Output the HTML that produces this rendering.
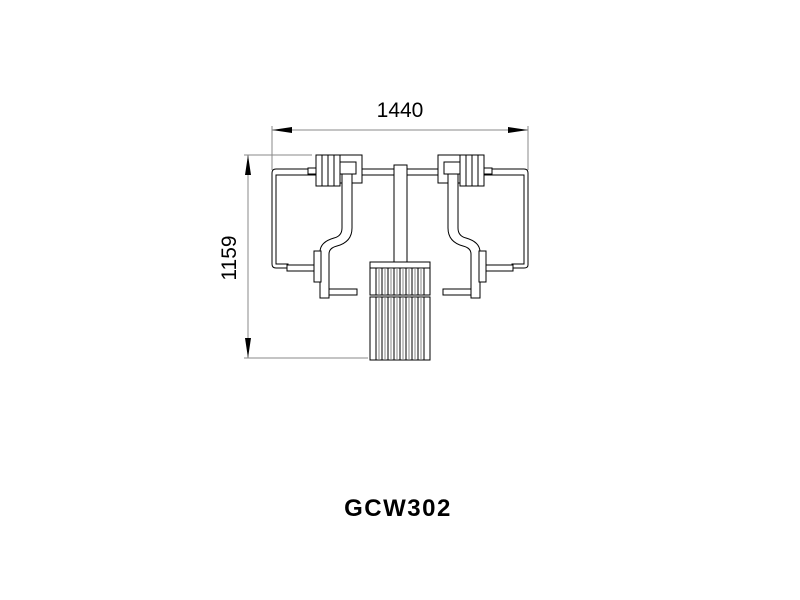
<!DOCTYPE html>
<html><head><style>body{margin:0;background:#fff}svg{display:block}</style></head><body>
<svg width="800" height="600" viewBox="0 0 800 600" xmlns="http://www.w3.org/2000/svg">
<rect width="800" height="600" fill="#fff"/>
<g stroke="#888" stroke-width="1" fill="none">
<line x1="272" y1="126" x2="272" y2="170"/>
<line x1="528" y1="126" x2="528" y2="170"/>
<line x1="272" y1="130" x2="528" y2="130"/>
<line x1="244" y1="155" x2="312" y2="155"/>
<line x1="244" y1="358" x2="368" y2="358"/>
<line x1="248" y1="155" x2="248" y2="358"/>
</g>
<g fill="#000">
<polygon points="272,130 292,127 292,133"/>
<polygon points="528,130 508,127 508,133"/>
<polygon points="248,155 245,175 251,175"/>
<polygon points="248,358 245,338 251,338"/>
</g>
<text x="400" y="117" font-family="Liberation Sans, sans-serif" font-size="21" text-anchor="middle">1440</text>
<text transform="translate(236,258) rotate(-90)" font-family="Liberation Sans, sans-serif" font-size="21" text-anchor="middle">1159</text>
<text x="398" y="516" font-family="Liberation Sans, sans-serif" font-size="24" font-weight="bold" text-anchor="middle" letter-spacing="1.5">GCW302</text>
<g stroke="#000" stroke-width="1" fill="#fff">
<path d="M276,169 H524 Q528,169 528,173 V265 Q528,268 524,268 H512 V264 H524 V175 H276 V264 H288 V268 H276 Q272,268 272,264 V173 Q272,169 276,169Z"/>
<rect x="287" y="265" width="28" height="6"/>
<rect x="485" y="265" width="28" height="6"/>
<rect x="308" y="168" width="8" height="6"/>
<rect x="484" y="168" width="8" height="6"/>
<rect x="394" y="165" width="13" height="97"/>
<rect x="316" y="155" width="6" height="31"/><rect x="322" y="155" width="6" height="31"/><rect x="328" y="155" width="6" height="31"/><rect x="334" y="155" width="6" height="31"/>
<rect x="340" y="155" width="22" height="28"/>
<rect x="340" y="162" width="16" height="12"/>
<rect x="460" y="155" width="6" height="31"/><rect x="466" y="155" width="6" height="31"/><rect x="472" y="155" width="6" height="31"/><rect x="478" y="155" width="6" height="31"/>
<rect x="438" y="155" width="22" height="28"/>
<rect x="444" y="162" width="16" height="12"/>
<path d="M342,174 V228 Q342,236 334,238 Q320,242 320,252 V298 H329 V254 Q329,248 337,246 Q352,242 352,228 V174Z"/>
<path d="M458,174 V228 Q458,236 466,238 Q480,242 480,252 V298 H471 V254 Q471,248 463,246 Q448,242 448,228 V174Z"/>
<rect x="314" y="251" width="7" height="31"/>
<rect x="479" y="251" width="7" height="31"/>
<rect x="329" y="289" width="28" height="6"/>
<rect x="443" y="289" width="28" height="6"/>
<rect x="370" y="262" width="60" height="6"/>
<rect x="370" y="268" width="60" height="27"/>
<rect x="370" y="297" width="60" height="63"/>
</g>
<g stroke="#000" stroke-width="1">
<path d="M376,268V295M382,268V295M388,268V295M394,268V295M400,268V295M406,268V295M412,268V295M418,268V295M424,268V295"/>
<path d="M376,297V360M382,297V360M388,297V360M394,297V360M400,297V360M406,297V360M412,297V360M418,297V360M424,297V360"/>
<path d="M379,268V295M385,268V295M391,268V295M397,268V295M403,268V295M409,268V295M415,268V295M421,268V295" stroke="#888"/>
<path d="M379,297V360M385,297V360M391,297V360M397,297V360M403,297V360M409,297V360M415,297V360M421,297V360" stroke="#888"/>
</g>
</svg>
</body></html>
